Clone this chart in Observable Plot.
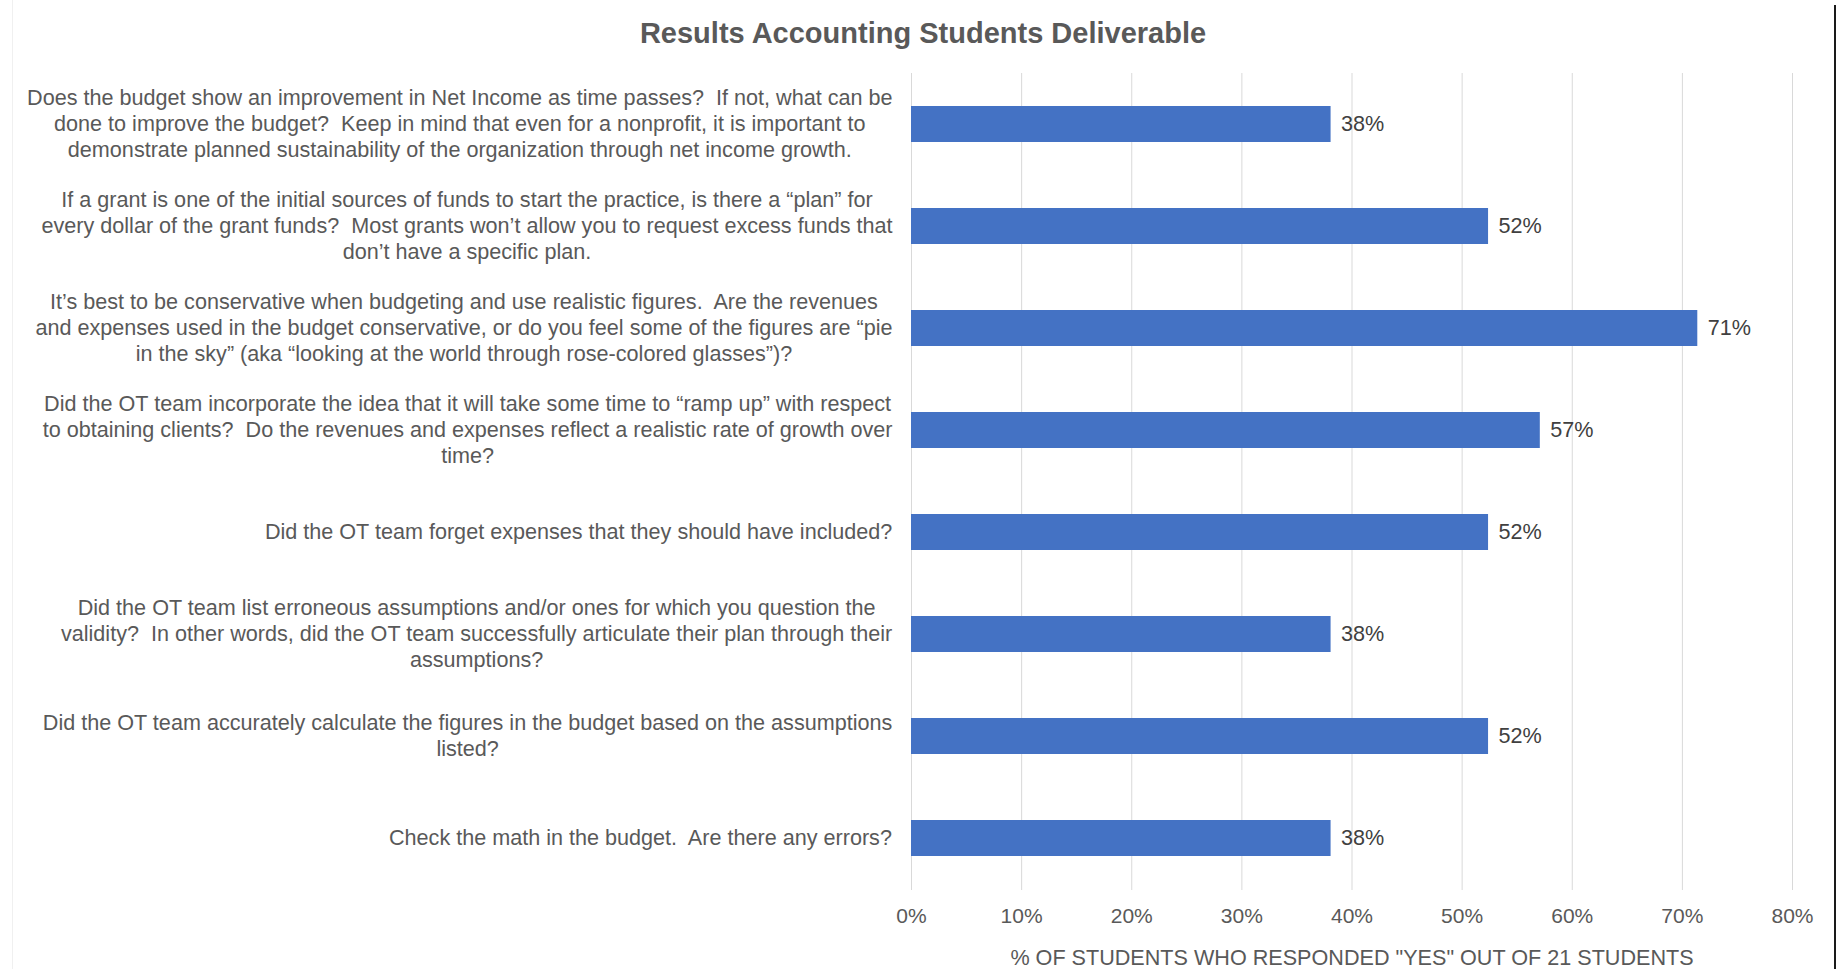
<!DOCTYPE html>
<html><head><meta charset="utf-8">
<script src="https://cdn.jsdelivr.net/npm/d3@7"></script>
<script src="https://cdn.jsdelivr.net/npm/@observablehq/plot@0.6"></script>
<style>
body{margin:0;background:#fff;font-family:"Liberation Sans",Arial,sans-serif;}
#wrap{position:relative;width:1836px;height:969px;overflow:hidden;background:#fff}
#title{height:58px;line-height:66px;text-align:center;font-weight:bold;font-size:29px;color:#595959;padding-left:10px;box-sizing:border-box}
#chart svg text{white-space:pre}
#edge{position:absolute;left:1834px;top:5px;width:2px;height:964px;background:#1a1a1a}
#ledge{position:absolute;left:12px;top:0;width:1px;height:969px;background:#f0f0f0}
</style></head><body>
<div id="wrap"><div id="title"></div><div id="chart"></div><div id="ledge"></div><div id="edge"></div></div>
<script>
const chartTitle = "Results Accounting Students Deliverable";
const questions = [
  "Does the budget show an improvement in Net Income as time passes?  If not, what can be\ndone to improve the budget?  Keep in mind that even for a nonprofit, it is important to\ndemonstrate planned sustainability of the organization through net income growth.",
  "If a grant is one of the initial sources of funds to start the practice, is there a \u201cplan\u201d for\nevery dollar of the grant funds?  Most grants won\u2019t allow you to request excess funds that\ndon\u2019t have a specific plan.",
  "It\u2019s best to be conservative when budgeting and use realistic figures.  Are the revenues\nand expenses used in the budget conservative, or do you feel some of the figures are \u201cpie\nin the sky\u201d (aka \u201clooking at the world through rose-colored glasses\u201d)?",
  "Did the OT team incorporate the idea that it will take some time to \u201cramp up\u201d with respect\nto obtaining clients?  Do the revenues and expenses reflect a realistic rate of growth over\ntime?",
  "Did the OT team forget expenses that they should have included?",
  "Did the OT team list erroneous assumptions and/or ones for which you question the\nvalidity?  In other words, did the OT team successfully articulate their plan through their\nassumptions?",
  "Did the OT team accurately calculate the figures in the budget based on the assumptions\nlisted?",
  "Check the math in the budget.  Are there any errors?"
];
const values = [0.381, 0.524, 0.714, 0.571, 0.524, 0.381, 0.524, 0.381];
const valueLabels = ["38%", "52%", "71%", "57%", "52%", "38%", "52%", "38%"];
const xTicks = [0, 0.1, 0.2, 0.3, 0.4, 0.5, 0.6, 0.7, 0.8];
const xTickLabels = ["0%", "10%", "20%", "30%", "40%", "50%", "60%", "70%", "80%"];
const xLabel = '% OF STUDENTS WHO RESPONDED "YES" OUT OF 21 STUDENTS';

document.getElementById("title").textContent = chartTitle;

const data = questions.map((q, i) => ({q, value: values[i], label: valueLabels[i]}));

const LABEL_SIZE = 21.6;
const ctx = document.createElement("canvas").getContext("2d");
ctx.font = LABEL_SIZE + "px 'Liberation Sans', Arial, sans-serif";
const blockWidth = q => Math.max(...q.split("\n").map(l => ctx.measureText(l).width));
const gap = 19;

const labelMarks = data.map(d => Plot.text([d], {
  y: "q", text: "q", frameAnchor: "left",
  dx: -(gap + blockWidth(d.q) / 2), dy: -2,
  textAnchor: "middle", lineAnchor: "middle", lineHeight: 1.22,
  fontSize: LABEL_SIZE, fill: "#595959"
}));

const plot = Plot.plot({
  width: 1836,
  height: 911,
  marginTop: 15,
  marginBottom: 79,
  marginLeft: 911,
  marginRight: 44,
  style: {fontFamily: "'Liberation Sans', Arial, sans-serif", fontSize: "21px", color: "#595959", background: "#fff"},
  x: {domain: [0, 0.8]},
  y: {domain: questions, paddingInner: 0.647, paddingOuter: 0.3235, axis: null},
  marks: [
    Plot.gridX(xTicks, {stroke: "#d9d9d9", strokeOpacity: 1, strokeWidth: 1}),
    Plot.barX(data, {x: "value", y: "q", fill: "#4472C4"}),
    Plot.text(data, {x: "value", y: "q", text: "label", dx: 10, textAnchor: "start", fontSize: 21.6, fill: "#404040"}),
    Plot.axisX(xTicks, {tickFormat: (d, i) => xTickLabels[i], tickSize: 0, tickPadding: 18, fontSize: 21, label: null, fill: "#595959"}),
    Plot.text([xLabel], {frameAnchor: "bottom", dy: 68, lineAnchor: "middle", fontSize: 21.6, fill: "#595959"}),
    ...labelMarks
  ]
});
document.getElementById("chart").appendChild(plot);
</script>
</body></html>
